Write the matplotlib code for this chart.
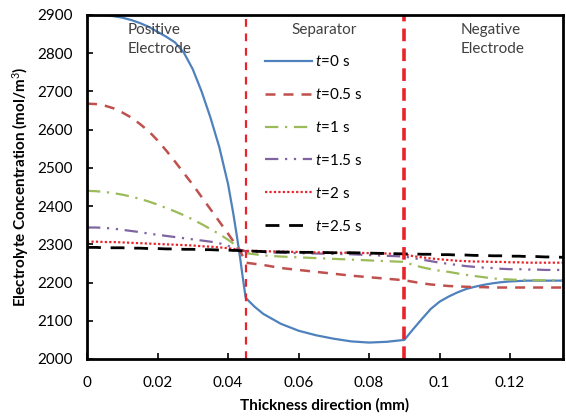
import matplotlib
matplotlib.use("Agg")
import matplotlib.pyplot as plt
from matplotlib.ticker import FuncFormatter, MultipleLocator

plt.rcParams['font.family'] = ['Lato', 'DejaVu Sans']
plt.rcParams['mathtext.fontset'] = 'custom'
plt.rcParams['mathtext.it'] = 'Lato:italic'
plt.rcParams['mathtext.rm'] = 'Lato'

x_mm = [0, 0.0025, 0.005, 0.0075, 0.01, 0.0125, 0.015, 0.0175, 0.02, 0.0225, 0.025, 0.0275,
        0.03, 0.0325, 0.035, 0.0375, 0.04, 0.0415, 0.0425, 0.0435, 0.044, 0.045,
        0.0475, 0.05, 0.055, 0.06, 0.065, 0.07, 0.075, 0.08, 0.085, 0.09,
        0.0925, 0.095, 0.0975, 0.1, 0.1025, 0.105, 0.1075, 0.11, 0.1125, 0.115, 0.1175,
        0.12, 0.1225, 0.125, 0.1275, 0.13, 0.1325, 0.135]

c_t0 = [2900, 2900, 2899, 2897, 2893, 2887, 2879, 2869, 2856, 2843, 2828, 2801,
        2758, 2700, 2632, 2555, 2458, 2380, 2322, 2260, 2225, 2160,
        2137, 2118, 2092, 2074, 2062, 2053, 2046, 2043, 2045, 2050,
        2078, 2105, 2131, 2150, 2163, 2174, 2183, 2189, 2194, 2198, 2201,
        2203, 2204, 2205, 2205, 2205, 2205, 2205]
c_t05 = [2668, 2667, 2663, 2656, 2645, 2632, 2615, 2596, 2572, 2545, 2516, 2486,
         2456, 2424, 2392, 2360, 2328, 2308, 2296, 2283, 2272, 2252,
         2249, 2246, 2238, 2233, 2228, 2223, 2218, 2214, 2210, 2206,
         2202, 2198, 2195, 2193, 2191, 2190, 2189, 2188, 2188, 2187, 2187,
         2187, 2187, 2187, 2187, 2187, 2187, 2187]
c_t1 = [2440, 2439, 2437, 2434, 2430, 2425, 2419, 2412, 2404, 2395, 2386, 2376,
        2365, 2353, 2340, 2327, 2312, 2302, 2294, 2284, 2281, 2277,
        2274, 2271, 2268, 2266, 2264, 2262, 2260, 2258, 2256, 2254,
        2246, 2240, 2235, 2231, 2228, 2224, 2220, 2217, 2214, 2211, 2209,
        2208, 2207, 2207, 2206, 2206, 2206, 2206]
c_t15 = [2344, 2344, 2343, 2341, 2338, 2335, 2332, 2328, 2325, 2322, 2319, 2316,
         2313, 2310, 2307, 2303, 2296, 2292, 2289, 2285, 2284, 2282,
         2280, 2279, 2278, 2277, 2276, 2275, 2274, 2272, 2270, 2268,
         2264, 2260, 2256, 2252, 2249, 2246, 2243, 2241, 2239, 2238, 2236,
         2235, 2235, 2234, 2234, 2233, 2233, 2233]
c_t2 = [2307, 2307, 2306, 2306, 2305, 2304, 2303, 2302, 2301, 2300, 2299, 2298,
        2297, 2295, 2294, 2292, 2290, 2288, 2287, 2285, 2284, 2283,
        2283, 2282, 2281, 2280, 2279, 2278, 2278, 2277, 2276, 2274,
        2269, 2266, 2263, 2261, 2259, 2257, 2256, 2255, 2255, 2254, 2254,
        2253, 2253, 2252, 2252, 2252, 2252, 2252]
c_t25 = [2292, 2292, 2291, 2291, 2291, 2290, 2290, 2289, 2289, 2288, 2288, 2287,
         2287, 2286, 2286, 2285, 2285, 2284, 2284, 2283, 2283, 2282,
         2282, 2281, 2280, 2279, 2279, 2278, 2278, 2277, 2276, 2275,
         2275, 2274, 2274, 2273, 2273, 2272, 2272, 2271, 2271, 2270, 2270,
         2269, 2269, 2268, 2268, 2267, 2267, 2266]

labels = ['$t$=0 s', '$t$=0.5 s', '$t$=1 s', '$t$=1.5 s', '$t$=2 s', '$t$=2.5 s']
boundaries = [0.045, 0.09]
region_names = ['Positive\nElectrode', 'Separator', 'Negative\nElectrode']

fig = plt.figure(figsize=(5.66, 4.17), dpi=100)
ax = fig.add_axes([87/566, 1-359/417, 476/566, 344/417])

ax.plot(x_mm, c_t0, color='#4F81BD', lw=1.6, label=labels[0])
ax.plot(x_mm, c_t05, color='#C0504D', lw=1.8, dashes=(4, 3.2), label=labels[1])
ax.plot(x_mm, c_t1, color='#9BBB59', lw=1.6, dashes=(6, 3, 1, 3), label=labels[2])
ax.plot(x_mm, c_t15, color='#8064A2', lw=1.6, dashes=(6, 3, 1, 3, 1, 3), label=labels[3])
ax.plot(x_mm, c_t2, color='#E8242A', lw=1.6, dashes=(1, 1), label=labels[4])
ax.plot(x_mm, c_t25, color='black', lw=2.0, dashes=(5, 3.5), label=labels[5])

ax.axvline(boundaries[0], color='#E8242A', lw=1.6, dashes=(3.5, 3))
ax.axvline(boundaries[1], color='#E8242A', lw=2.6, dashes=(3.5, 2))

ax.set_xlim(0, 0.135)
ax.set_ylim(2000, 2900)
ax.xaxis.set_major_locator(MultipleLocator(0.02))
ax.yaxis.set_major_locator(MultipleLocator(100))
ax.xaxis.set_major_formatter(FuncFormatter(lambda v, p: '%g' % round(v, 4)))
ax.tick_params(axis='both', direction='in', length=4, width=1.2, labelsize=11, colors='black')
ax.tick_params(axis='x', pad=12)
ax.tick_params(axis='y', pad=10)
for s in ax.spines.values():
    s.set_linewidth(2)
    s.set_color('black')

ax.set_xlabel('Thickness direction (mm)', fontsize=11, fontweight='bold', labelpad=6)
ax.set_ylabel('Electrolyte Concentration (mol/m$^3$)', fontsize=11, fontweight='bold')
ax.yaxis.set_label_coords(-0.118, 0.5)

tk = dict(fontsize=11, color='#404040', va='top', linespacing=1.45)
ax.text(0.0116, 2878, region_names[0], ha='left', **tk)
ax.text(0.0674, 2878, region_names[1], ha='center', **tk)
ax.text(0.1061, 2878, region_names[2], ha='left', **tk)

leg = ax.legend(loc='upper left', bbox_to_anchor=(0.374, 0.886), frameon=False,
                fontsize=11, handlelength=3.1, handletextpad=0.2, labelspacing=1.17,
                borderpad=0, borderaxespad=0)

fig.savefig('out.png', dpi=100)
